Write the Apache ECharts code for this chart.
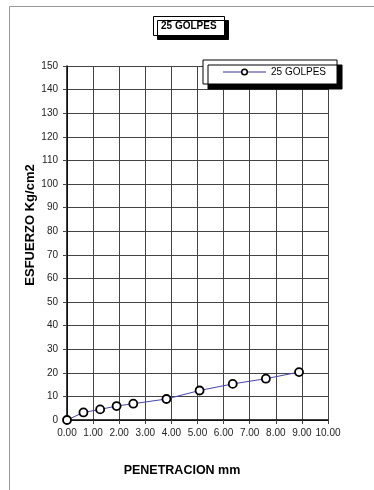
<!DOCTYPE html>
<html>
<head>
<meta charset="utf-8">
<script src="https://cdn.jsdelivr.net/npm/echarts@6/dist/echarts.min.js"></script>
<style>
html,body{margin:0;padding:0;background:#fff;}
#main{width:374px;height:490px;}
</style>
</head>
<body>
<div id="main"></div>
<script>
// Data
var seriesName = '25 GOLPES';
var penetration = [0, 0.63, 1.27, 1.9, 2.54, 3.81, 5.08, 6.35, 7.62, 8.89];
var stress = [0, 3.2, 4.5, 5.9, 6.9, 8.9, 12.5, 15.3, 17.5, 20.3];
var xTitle = 'PENETRACION mm';
var yTitle = 'ESFUERZO Kg/cm2';

var points = penetration.map(function (x, i) { return [x, stress[i]]; });
var font = 'Liberation Sans, Arial, sans-serif';

var chart = echarts.init(document.getElementById('main'), null, { renderer: 'canvas' });
chart.setOption({
  animation: false,
  backgroundColor: '#fff',
  title: {
    text: seriesName,
    left: 153,
    top: 16,
    padding: [5, 8, 5, 8],
    backgroundColor: '#fff',
    borderColor: '#000',
    borderWidth: 1,
    shadowColor: '#000',
    shadowBlur: 0,
    shadowOffsetX: 4,
    shadowOffsetY: 4,
    textStyle: { fontFamily: font, fontSize: 10, fontWeight: 'bold', color: '#000' }
  },
  legend: {
    left: 203,
    top: 60,
    padding: [7, 11, 7, 19],
    itemWidth: 43,
    itemHeight: 7,
    itemGap: 5,
    backgroundColor: '#fff',
    borderColor: '#000',
    borderWidth: 1,
    shadowColor: '#000',
    shadowBlur: 0,
    shadowOffsetX: 5,
    shadowOffsetY: 5,
    lineStyle: { color: '#9999cc', width: 2 },
    itemStyle: { color: '#fff', borderColor: '#000', borderWidth: 1.5 },
    textStyle: { fontFamily: font, fontSize: 10, color: '#000' },
    data: [seriesName]
  },
  grid: { left: 67, right: 46, top: 66, bottom: 70, containLabel: false },
  xAxis: {
    type: 'value',
    min: 0, max: 10, interval: 1,
    axisLine: { show: true, lineStyle: { color: '#000', width: 1.5 } },
    axisTick: { show: true, inside: false, length: 4, lineStyle: { color: '#444' } },
    axisLabel: {
      margin: 8,
      fontFamily: font, fontSize: 10, color: '#222',
      formatter: function (v) { return v.toFixed(2); }
    },
    splitLine: { show: true, lineStyle: { color: '#444', width: 1 } }
  },
  yAxis: {
    type: 'value',
    min: 0, max: 150, interval: 10,
    axisLine: { show: true, lineStyle: { color: '#000', width: 1.5 } },
    axisTick: { show: true, inside: false, length: 4, lineStyle: { color: '#444' } },
    axisLabel: { margin: 9, fontFamily: font, fontSize: 10, color: '#222' },
    splitLine: { show: true, lineStyle: { color: '#444', width: 1 } }
  },
  graphic: [
    { type: 'line', shape: { x1: 9.5, y1: 6.5, x2: 9.5, y2: 490 }, style: { stroke: '#999', lineWidth: 1 }, silent: true },
    { type: 'line', shape: { x1: 9.5, y1: 6.5, x2: 374, y2: 6.5 }, style: { stroke: '#999', lineWidth: 1 }, silent: true },
    {
      type: 'text',
      x: 182, y: 471,
      style: {
        text: xTitle, fontFamily: font, fontSize: 12.5, fontWeight: 'bold', fill: '#000',
        textAlign: 'center', textVerticalAlign: 'middle'
      }
    },
    {
      type: 'text',
      x: 30, y: 225,
      rotation: Math.PI / 2,
      style: {
        text: yTitle, fontFamily: font, fontSize: 13, fontWeight: 'bold', fill: '#000',
        textAlign: 'center', textVerticalAlign: 'middle'
      }
    }
  ],
  series: [{
    name: seriesName,
    type: 'line',
    data: points,
    symbol: 'circle',
    symbolSize: 8,
    showSymbol: true,
    lineStyle: { color: '#4444b0', width: 1 },
    itemStyle: { color: '#fff', borderColor: '#000', borderWidth: 1.8 },
    z: 3
  }]
});
</script>
</body>
</html>
